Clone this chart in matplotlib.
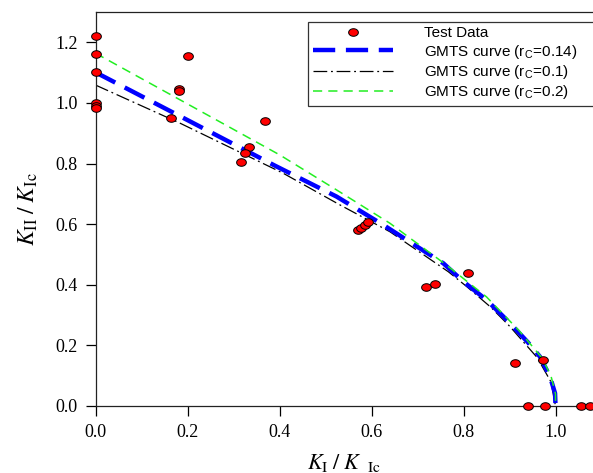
import numpy as np
import matplotlib
matplotlib.use("Agg")
import matplotlib.pyplot as plt
from matplotlib.path import Path

# datos experimentales (KI/KIc, KII/KIc)
test_x = [0.0, 0.0, 0.0, 0.0, 0.0, 0.0,
          0.200, 0.181, 0.181, 0.165, 0.368, 0.334, 0.326, 0.316,
          0.571, 0.578, 0.585, 0.593, 0.810, 0.718, 0.738,
          0.913, 0.973, 0.940, 0.978, 1.055, 1.075]
test_y = [1.222, 1.163, 1.103, 1.000, 0.991, 0.982,
          1.155, 1.047, 1.040, 0.949, 0.942, 0.854, 0.834, 0.806,
          0.581, 0.588, 0.596, 0.606, 0.440, 0.392, 0.402,
          0.142, 0.151, 0.0, 0.0, 0.0, 0.0]

# curvas GMTS
rc014_x = [0.0, 0.184, 0.39, 0.524, 0.626, 0.70, 0.756, 0.80, 0.85, 0.90, 0.94, 0.966, 0.988, 0.999, 1.0]
rc014_y = [1.101, 0.956, 0.793, 0.691, 0.597, 0.525, 0.471, 0.410, 0.350, 0.275, 0.210, 0.163, 0.097, 0.042, 0.0]

rc01_x = [0.0, 0.184, 0.408, 0.532, 0.640, 0.767, 0.807, 0.860, 0.901, 0.960, 0.990, 1.0]
rc01_y = [1.059, 0.933, 0.768, 0.663, 0.575, 0.443, 0.394, 0.325, 0.262, 0.160, 0.080, 0.0]

rc02_x = [0.0, 0.184, 0.401, 0.524, 0.640, 0.763, 0.85, 0.92, 0.97, 0.99, 1.0, 1.0]
rc02_y = [1.164, 1.010, 0.828, 0.713, 0.603, 0.465, 0.360, 0.250, 0.160, 0.100, 0.040, 0.0]

labels = ['Test Data', 'GMTS curve (r$_\\mathregular{C}$=0.14)',
          'GMTS curve (r$_\\mathregular{C}$=0.1)', 'GMTS curve (r$_\\mathregular{C}$=0.2)']

plt.rcParams['mathtext.fontset'] = 'stix'

fig = plt.figure(figsize=(5.93, 4.73), dpi=100)
ax = fig.add_axes([95.5/593, 1 - 406/473, 1 - 95.5/593, 394/473])

# marcador eliptico (un poco mas ancho que alto)
t = np.linspace(0, 2*np.pi, 40)
elipse = Path(np.c_[np.cos(t), 0.78*np.sin(t)], closed=True)

ax.plot(test_x, test_y, linestyle='none', marker=elipse, ms=7,
        mfc='red', mec='black', mew=0.7, label=labels[0], zorder=5, clip_on=False)
ax.plot(rc014_x, rc014_y, color='blue', lw=3.2, dashes=(5, 2.4), label=labels[1], zorder=3)
ax.plot(rc01_x, rc01_y, color='black', lw=0.9, dashes=(11, 3, 1.5, 3), label=labels[2], zorder=2)
ax.plot(rc02_x, rc02_y, color='#22ee22', lw=1.1, dashes=(6, 4), label=labels[3], zorder=4)

ax.set_xlim(0, 1.0815)
ax.set_ylim(0, 1.30)
ax.set_xticks([0.0, 0.2, 0.4, 0.6, 0.8, 1.0])
ax.set_yticks([0.0, 0.2, 0.4, 0.6, 0.8, 1.0, 1.2])
ax.set_xticklabels(['0.0', '0.2', '0.4', '0.6', '0.8', '1.0'])
ax.set_yticklabels(['0.0', '0.2', '0.4', '0.6', '0.8', '1.0', '1.2'])
ax.tick_params(direction='out', length=7, width=0.9, pad=6, labelsize=13,
               labelfontfamily='Liberation Serif')
ax.spines['right'].set_visible(False)
for s in ['left', 'bottom', 'top']:
    ax.spines[s].set_linewidth(0.9)
    ax.spines[s].set_color('#222222')

ax.set_xlabel(r'$K_{\rm I}\;/\;K_{\;\;\;\rm Ic}$', fontsize=16, labelpad=8)
ax.set_ylabel(r'$K_{\rm II}\;/\;K_{\rm Ic}$', fontsize=17, labelpad=11)

leg = ax.legend(loc='upper left', bbox_to_anchor=(0.427, 0.975, 0.62, 0), mode='expand',
                borderaxespad=0, prop={'family': 'Liberation Sans', 'size': 11},
                handlelength=5.3, handletextpad=2.0, labelspacing=0.15,
                borderpad=0.3, fancybox=False, frameon=True)
leg.get_frame().set_edgecolor('black')
leg.get_frame().set_linewidth(0.9)

fig.savefig('out.png', dpi=100)
